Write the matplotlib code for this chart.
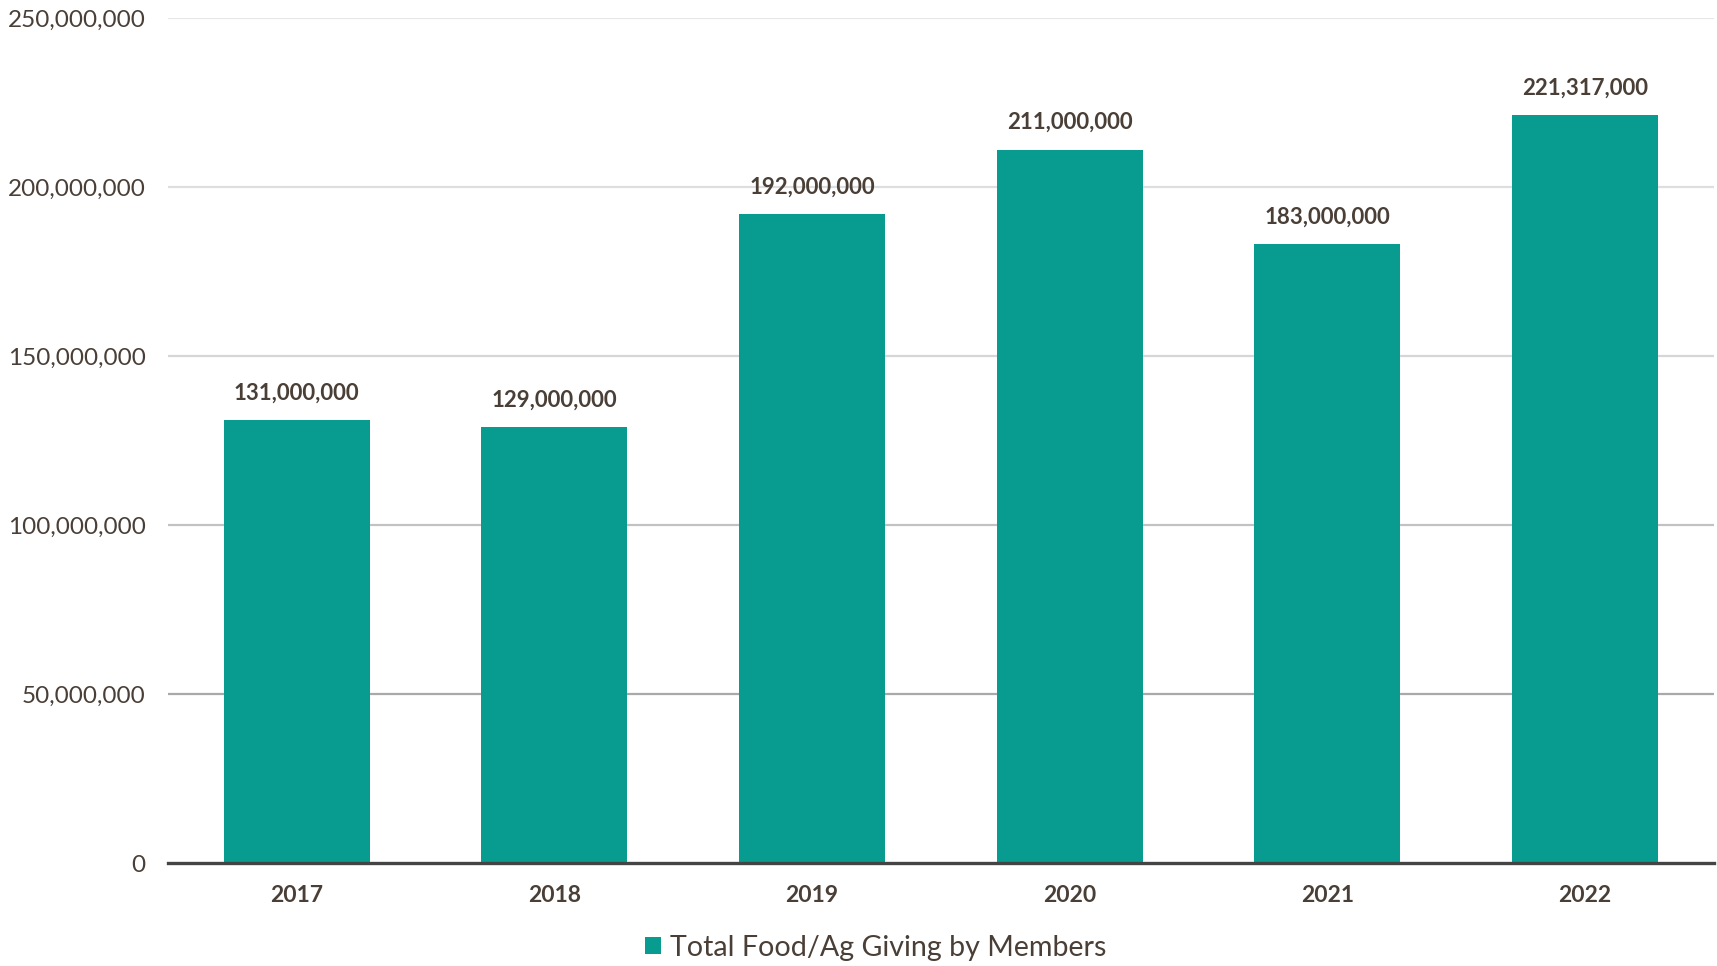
#program to plot food/ag giving bar chart

import matplotlib
matplotlib.use('Agg')
import matplotlib.pyplot as plt
import numpy as np

########################################################################
### data ###
########################################################################

years  = ['2017', '2018', '2019', '2020', '2021', '2022']
giving = [131000000, 129000000, 192000000, 211000000, 183000000, 221317000]
yticks = [0, 50000000, 100000000, 150000000, 200000000, 250000000]
series_name = 'Total Food/Ag Giving by Members'

########################################################################
### plot ###
########################################################################

bar_col  = '#089c91'
text_col = '#4a3f37'
grid_cols = ['#a9a9a9', '#c2c2c2', '#d6d6d6', '#dedede', '#e6e6e6']

plt.rcParams['font.family'] = ['Lato', 'DejaVu Sans']

fig = plt.figure(figsize=(17.17, 9.66), dpi=100)
ax = fig.add_axes([0.0978, 0.1066, 0.9002, 0.8748])

x = np.arange(len(years))
bars = ax.bar(x, giving, width=0.567, color=bar_col, label=series_name,
              zorder=3)

#gridlines, darker toward the bottom
for val, col in zip(yticks[1:], grid_cols):
    ax.axhline(val, color=col, linewidth=1.6, zorder=1)

ax.set_xlim(-0.5, len(years) - 0.5)
ax.set_ylim(0, 250000000)
ax.set_yticks(yticks)
ax.set_yticklabels([f'{v:,}' for v in yticks], fontsize=17.5,
                   color=text_col)
ax.set_xticks(x)
ax.set_xticklabels(years, fontsize=16.5, fontweight='bold', color=text_col)
ax.tick_params(axis='y', length=0, pad=16)
ax.tick_params(axis='x', length=0, pad=16)

for s in ['top', 'right', 'left']:
    ax.spines[s].set_visible(False)
ax.spines['bottom'].set_color('#444444')
ax.spines['bottom'].set_linewidth(2.4)
ax.spines['bottom'].set_zorder(4)

ax.bar_label(bars, labels=[f'{v:,}' for v in giving], padding=12,
             fontsize=16, fontweight='bold', color=text_col)

ax.legend(loc='center', bbox_to_anchor=(0.458, -0.1), frameon=False,
          fontsize=20.6, labelcolor=text_col, handlelength=0.55,
          handleheight=0.55, handletextpad=0.3)

plt.savefig('out.png', dpi=100)
